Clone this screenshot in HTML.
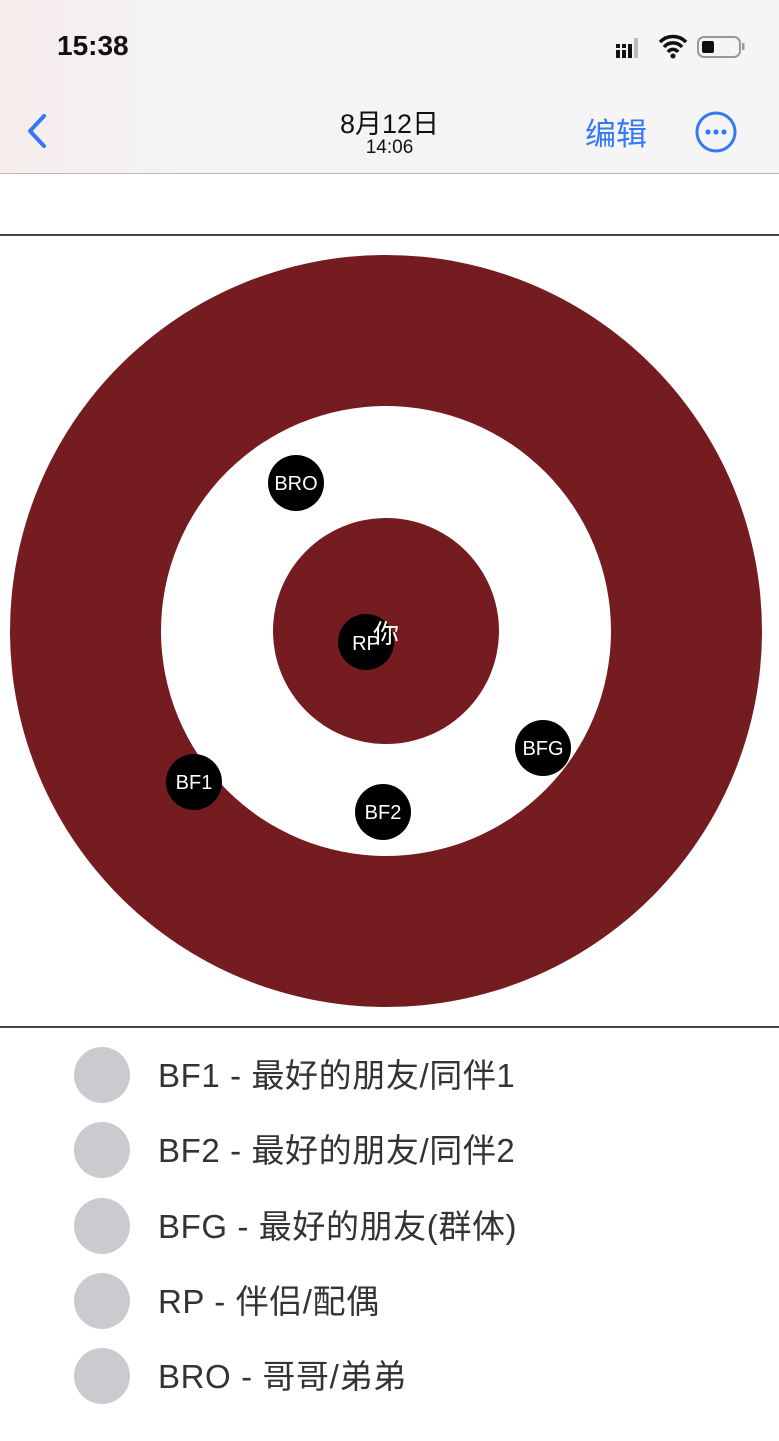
<!DOCTYPE html>
<html><head><meta charset="utf-8"><style>
html,body{margin:0;padding:0}
body{width:779px;height:1441px;position:relative;overflow:hidden;background:#fff;font-family:"Liberation Sans","Noto Sans CJK SC",sans-serif}
.hdr{position:absolute;left:0;top:0;width:779px;height:173px;background:linear-gradient(90deg,#f7ecec 0%,#f4f4f4 25%,#f5f5f5 100%);border-bottom:1px solid #b8b8b8}
.t{position:absolute;white-space:nowrap}
.leg{position:absolute;left:74px;width:56px;height:56px;border-radius:50%;background:#cbcacf}
.lt{position:absolute;left:158px;font-size:33px;letter-spacing:0.6px;color:#333;white-space:nowrap;line-height:1}
</style></head><body>
<div class="hdr"></div>
<div class="t" style="left:57px;top:30px;font-size:28px;font-weight:bold;color:#111">15:38</div>
<svg style="position:absolute;left:610px;top:30px" width="140" height="34">
 <g fill="#111"><rect x="6" y="20" width="4" height="8"/><rect x="12" y="20" width="4" height="8"/><rect x="18" y="14" width="4" height="14"/><rect x="24" y="8" width="4" height="20" fill="#bbb"/>
 <rect x="6" y="14" width="4" height="4"/><rect x="12" y="14" width="4" height="4"/></g>
 <path d="M50 12 a18 18 0 0 1 26 0 M54 17 a12 12 0 0 1 18 0 M58 22 a6 6 0 0 1 10 0" stroke="#111" stroke-width="3.5" fill="none"/>
 <circle cx="63" cy="26" r="2.5" fill="#111"/>
 <rect x="88" y="7" width="42" height="20" rx="6" fill="none" stroke="#999" stroke-width="2"/>
 <rect x="92" y="11" width="12" height="12" rx="2" fill="#111"/>
 <rect x="132" y="13" width="2.5" height="7" fill="#999"/>
</svg>
<svg style="position:absolute;left:22px;top:112px" width="30" height="40"><path d="M22 4 L8 19 L22 34" stroke="#3478f6" stroke-width="4" fill="none" stroke-linecap="round" stroke-linejoin="round"/></svg>
<div class="t" style="left:0;width:779px;text-align:center;top:102px;font-size:27px;color:#111">8月12日</div>
<div class="t" style="left:0;width:779px;text-align:center;top:137px;font-size:19px;color:#111">14:06</div>
<div class="t" style="left:585px;top:109px;font-size:31px;color:#3478f6">编辑</div>
<svg style="position:absolute;left:694px;top:110px" width="46" height="46"><circle cx="22" cy="22" r="19" fill="none" stroke="#3478f6" stroke-width="3"/><circle cx="14" cy="22" r="2.6" fill="#3478f6"/><circle cx="22" cy="22" r="2.6" fill="#3478f6"/><circle cx="30" cy="22" r="2.6" fill="#3478f6"/></svg>
<div style="position:absolute;left:0;top:234px;width:779px;height:2px;background:#444"></div>
<div style="position:absolute;left:0;top:1026px;width:779px;height:2px;background:#444"></div>
<svg style="position:absolute;left:0;top:0" width="779" height="1441" font-family="Liberation Sans, sans-serif">
 <circle cx="386" cy="631" r="376" fill="#741c20"/>
 <circle cx="386" cy="631" r="225" fill="#fff"/>
 <circle cx="386" cy="631" r="113" fill="#741c20"/>
 <g fill="#000"><circle cx="296" cy="483" r="28"/><circle cx="366" cy="642" r="28"/><circle cx="543" cy="748" r="28"/><circle cx="194" cy="782" r="28"/><circle cx="383" cy="812" r="28"/></g>
 <g fill="#fff" font-size="20" text-anchor="middle">
  <text x="296" y="490">BRO</text><text x="366" y="650">RP</text><text x="543" y="755">BFG</text><text x="194" y="789">BF1</text><text x="383" y="819">BF2</text>
  <text x="386" y="643" font-size="26" font-family="Noto Sans CJK SC, sans-serif">你</text>
 </g>
</svg>
<div class="leg" style="top:1047px"></div><div class="lt" style="top:1059px">BF1 - 最好的朋友/同伴1</div>
<div class="leg" style="top:1122px"></div><div class="lt" style="top:1134px">BF2 - 最好的朋友/同伴2</div>
<div class="leg" style="top:1198px"></div><div class="lt" style="top:1210px">BFG - 最好的朋友(群体)</div>
<div class="leg" style="top:1273px"></div><div class="lt" style="top:1285px">RP - 伴侣/配偶</div>
<div class="leg" style="top:1348px"></div><div class="lt" style="top:1360px">BRO - 哥哥/弟弟</div>
</body></html>
